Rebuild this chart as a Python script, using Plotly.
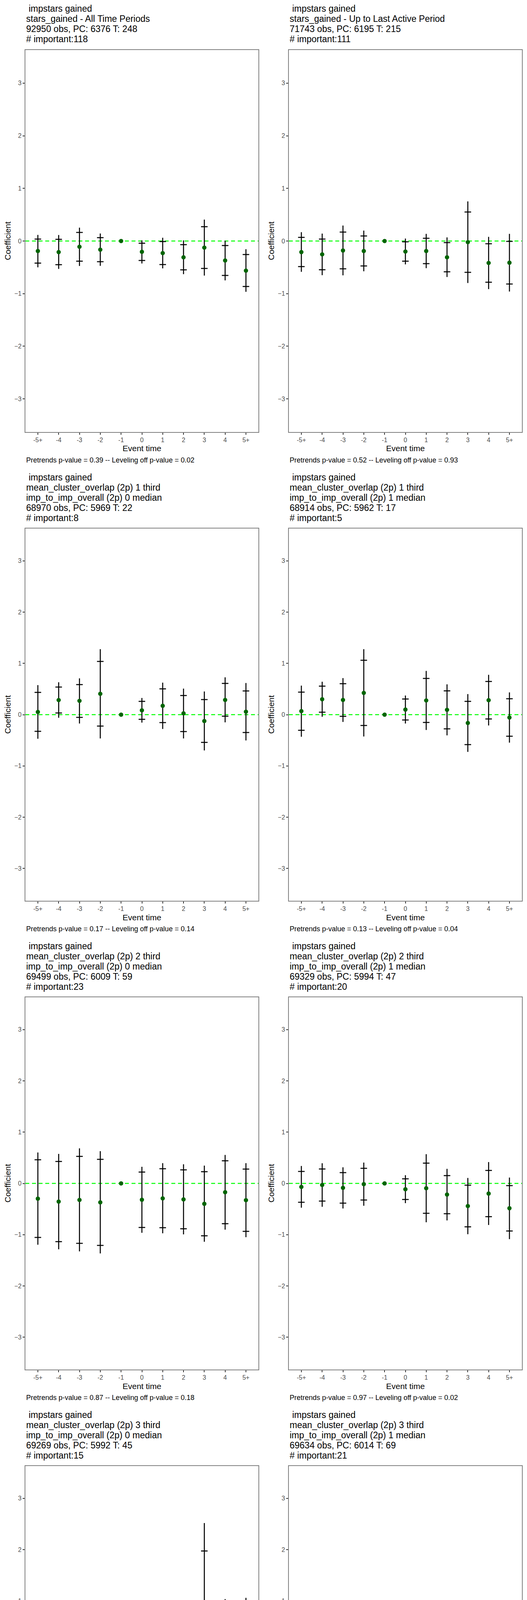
import plotly.graph_objects as go

# Event-study coefficients
events = ["-5+", "-4", "-3", "-2", "-1", "0", "1", "2", "3", "4", "5+"]

coef_1 = [-0.19, -0.21, -0.109, -0.165, 0, -0.205, -0.23, -0.309, -0.126, -0.37, -0.563]
hi95_1 = [0.037, 0.032, 0.163, 0.064, None, -0.042, -0.01, -0.069, 0.272, -0.086, -0.257]
lo95_1 = [-0.42, -0.45, -0.383, -0.393, None, -0.37, -0.447, -0.548, -0.521, -0.654, -0.864]
hi99_1 = [0.116, 0.114, 0.254, 0.143, None, 0.012, 0.062, 0.012, 0.407, 0.007, -0.156]
lo99_1 = [-0.50, -0.53, -0.474, -0.472, None, -0.427, -0.52, -0.63, -0.657, -0.748, -0.965]

coef_2 = [-0.21, -0.254, -0.18, -0.19, 0, -0.2, -0.19, -0.309, -0.022, -0.417, -0.412]
hi95_2 = [0.069, 0.037, 0.17, 0.096, None, -0.015, 0.052, -0.03, 0.551, -0.052, -0.007]
lo95_2 = [-0.486, -0.546, -0.528, -0.474, None, -0.383, -0.43, -0.585, -0.595, -0.783, -0.817]
hi99_2 = [0.168, 0.141, 0.294, 0.198, None, 0.047, 0.136, 0.069, 0.753, 0.079, 0.136]
lo99_2 = [-0.585, -0.649, -0.652, -0.575, None, -0.444, -0.516, -0.684, -0.798, -0.914, -0.96]

coef_3 = [0.053, 0.284, 0.269, 0.406, 0, 0.084, 0.173, 0.025, -0.124, 0.287, 0.058]
hi95_3 = [0.434, 0.538, 0.586, 1.038, None, 0.259, 0.503, 0.373, 0.294, 0.609, 0.462]
lo95_3 = [-0.325, 0.033, -0.053, -0.223, None, -0.091, -0.155, -0.33, -0.541, -0.03, -0.348]
hi99_3 = [0.576, 0.632, 0.708, 1.277, None, 0.325, 0.624, 0.508, 0.452, 0.728, 0.617]
lo99_3 = [-0.47, -0.061, -0.173, -0.464, None, -0.155, -0.279, -0.464, -0.698, -0.15, -0.503]

coef_4 = [0.069, 0.3, 0.287, 0.424, 0, 0.099, 0.277, 0.094, -0.162, 0.282, -0.056]
hi95_4 = [0.439, 0.556, 0.604, 1.061, None, 0.305, 0.706, 0.464, 0.259, 0.647, 0.31]
lo95_4 = [-0.305, 0.048, -0.033, -0.211, None, -0.104, -0.152, -0.277, -0.584, -0.084, -0.421]
hi99_4 = [0.566, 0.642, 0.713, 1.277, None, 0.373, 0.853, 0.591, 0.401, 0.777, 0.434]
lo99_4 = [-0.431, -0.041, -0.142, -0.426, None, -0.173, -0.299, -0.404, -0.726, -0.211, -0.546]

coef_5 = [-0.297, -0.355, -0.322, -0.37, 0, -0.319, -0.292, -0.312, -0.398, -0.172, -0.327]
hi95_5 = [0.461, 0.428, 0.527, 0.469, None, 0.221, 0.286, 0.264, 0.228, 0.441, 0.279]
lo95_5 = [-1.054, -1.136, -1.169, -1.209, None, -0.859, -0.864, -0.885, -1.022, -0.786, -0.935]
hi99_5 = [0.603, 0.575, 0.684, 0.629, None, 0.324, 0.395, 0.373, 0.347, 0.555, 0.395]
lo99_5 = [-1.196, -1.285, -1.326, -1.366, None, -0.963, -0.973, -0.994, -1.138, -0.902, -1.049]

coef_6 = [-0.068, -0.03, -0.086, -0.015, 0, -0.114, -0.094, -0.218, -0.441, -0.198, -0.484]
hi95_6 = [0.233, 0.281, 0.21, 0.294, None, 0.089, 0.395, 0.152, -0.035, 0.253, -0.043]
lo95_6 = [-0.368, -0.345, -0.385, -0.324, None, -0.314, -0.583, -0.591, -0.847, -0.649, -0.928]
hi99_6 = [0.34, 0.393, 0.314, 0.406, None, 0.16, 0.57, 0.284, 0.106, 0.416, 0.114]
lo99_6 = [-0.474, -0.456, -0.489, -0.436, None, -0.385, -0.758, -0.722, -0.991, -0.811, -1.087]

coef_7 = [0.082, 0.313, 0.099, 0.116, 0, 0.095, -0.068, -0.415, 0.517, -0.544, -0.541]
hi95_7 = [0.391, 0.629, 0.384, 0.599, None, 0.289, 0.32, 0.354, 1.973, 0.602, 0.622]
lo95_7 = [-0.224, -0.003, -0.19, -0.364, None, -0.099, -0.456, -1.18, -0.939, -1.69, -1.701]
hi99_7 = [0.507, 0.745, 0.493, 0.779, None, 0.361, 0.463, 0.643, 2.517, 1.034, 1.058]
lo99_7 = [-0.34, -0.119, -0.299, -0.544, None, -0.17, -0.599, -1.473, -1.483, -2.119, -2.136]

coef_8 = [0.099, 0.084, 0.162, 0.195, 0, 0.033, 0.139, 0.003, -0.073, -0.073, -0.101]
hi95_8 = [0.278, 0.314, 0.349, 0.456, None, 0.142, 0.339, 0.17, 0.147, 0.129, 0.096]
lo95_8 = [-0.084, -0.144, -0.025, -0.063, None, -0.078, -0.058, -0.159, -0.286, -0.276, -0.299]
hi99_8 = [0.349, 0.4, 0.418, 0.552, None, 0.177, 0.415, 0.225, 0.223, 0.205, 0.17]
lo99_8 = [-0.154, -0.23, -0.096, -0.159, None, -0.119, -0.134, -0.22, -0.37, -0.354, -0.372]

titles = [
    ["\u00a0impstars gained", "stars_gained - All Time Periods",
     "92950 obs, PC: 6376 T: 248", "# important:118"],
    ["\u00a0impstars gained", "stars_gained - Up to Last Active Period",
     "71743 obs, PC: 6195 T: 215", "# important:111"],
    ["\u00a0impstars gained", "mean_cluster_overlap (2p) 1 third",
     "imp_to_imp_overall (2p) 0 median", "68970 obs, PC: 5969 T: 22", "# important:8"],
    ["\u00a0impstars gained", "mean_cluster_overlap (2p) 1 third",
     "imp_to_imp_overall (2p) 1 median", "68914 obs, PC: 5962 T: 17", "# important:5"],
    ["\u00a0impstars gained", "mean_cluster_overlap (2p) 2 third",
     "imp_to_imp_overall (2p) 0 median", "69499 obs, PC: 6009 T: 59", "# important:23"],
    ["\u00a0impstars gained", "mean_cluster_overlap (2p) 2 third",
     "imp_to_imp_overall (2p) 1 median", "69329 obs, PC: 5994 T: 47", "# important:20"],
    ["\u00a0impstars gained", "mean_cluster_overlap (2p) 3 third",
     "imp_to_imp_overall (2p) 0 median", "69269 obs, PC: 5992 T: 45", "# important:15"],
    ["\u00a0impstars gained", "mean_cluster_overlap (2p) 3 third",
     "imp_to_imp_overall (2p) 1 median", "69634 obs, PC: 6014 T: 69", "# important:21"],
]
pretrend_p = ["0.39", "0.52", "0.17", "0.13", "0.87", "0.97", "0.25", "0.24"]
leveling_p = ["0.02", "0.93", "0.14", "0.04", "0.18", "0.02", "0.97", "0.66"]
y_ticks = [-3, -2, -1, 0, 1, 2, 3]

panels = [
    (coef_1, lo95_1, hi95_1, lo99_1, hi99_1),
    (coef_2, lo95_2, hi95_2, lo99_2, hi99_2),
    (coef_3, lo95_3, hi95_3, lo99_3, hi99_3),
    (coef_4, lo95_4, hi95_4, lo99_4, hi99_4),
    (coef_5, lo95_5, hi95_5, lo99_5, hi99_5),
    (coef_6, lo95_6, hi95_6, lo99_6, hi99_6),
    (coef_7, lo95_7, hi95_7, lo99_7, hi99_7),
    (coef_8, lo95_8, hi95_8, lo99_8, hi99_8),
]

W, H = 1350, 4800
FONT = "Liberation Sans, Arial, sans-serif"


def px_x(x):
    return x / W


def px_y(y):
    return 1 - y / H


fig = go.Figure()
annotations = []
shapes = []

for i, (coef, lo95, hi95, lo99, hi99) in enumerate(panels):
    row, col = divmod(i, 2)
    n = i + 1
    xa = "x" if n == 1 else f"x{n}"
    ya = "y" if n == 1 else f"y{n}"
    x0 = 675 * col
    y0 = 1200 * row
    box_l, box_r = x0 + 65, x0 + 662
    box_t = y0 + (128 if row == 0 else 153)
    box_b = y0 + 1106

    # 99% interval lines
    lx, ly = [], []
    for e, lo, hi in zip(events, lo99, hi99):
        if lo is None:
            continue
        lx += [e, e, None]
        ly += [lo, hi, None]
    fig.add_trace(go.Scatter(x=lx, y=ly, mode="lines", xaxis=xa, yaxis=ya,
                             line=dict(color="black", width=2.6),
                             hoverinfo="skip", showlegend=False))

    # 95% interval ticks
    tx = [e for e, v in zip(events, lo95) if v is not None]
    fig.add_trace(go.Scatter(
        x=tx + tx,
        y=[v for v in hi95 if v is not None] + [v for v in lo95 if v is not None],
        mode="markers", xaxis=xa, yaxis=ya,
        marker=dict(symbol="line-ew", size=12, color="black",
                    line=dict(color="black", width=2.6)),
        hoverinfo="skip", showlegend=False))

    # point estimates
    fig.add_trace(go.Scatter(x=events, y=coef, mode="markers", xaxis=xa, yaxis=ya,
                             marker=dict(color="#006400", size=11),
                             showlegend=False))

    xkey = "xaxis" if n == 1 else f"xaxis{n}"
    ykey = "yaxis" if n == 1 else f"yaxis{n}"
    fig.update_layout(**{
        xkey: dict(domain=[px_x(box_l), px_x(box_r)], anchor=ya,
                   type="category", categoryorder="array", categoryarray=events,
                   range=[-0.6, 10.6], showgrid=False, zeroline=False,
                   showline=True, mirror=True, linecolor="#808080", linewidth=1.5,
                   ticks="outside", ticklen=5, tickwidth=1.5, tickcolor="#333333",
                   tickfont=dict(family=FONT, size=16, color="#4d4d4d")),
        ykey: dict(domain=[px_y(box_b), px_y(box_t)], anchor=xa,
                   range=[-3.63, 3.63], tickvals=y_ticks, showgrid=False,
                   zeroline=False, showline=True, mirror=True,
                   linecolor="#808080", linewidth=1.5,
                   ticks="outside", ticklen=5, tickwidth=1.5, tickcolor="#333333",
                   tickfont=dict(family=FONT, size=16, color="#4d4d4d")),
    })

    # dashed zero reference line
    shapes.append(dict(type="line", xref=f"{xa} domain", x0=0, x1=1,
                       yref=ya, y0=0, y1=0, layer="below",
                       line=dict(color="#00ff00", width=2.6, dash="10px,7px")))

    # title lines
    for k, line in enumerate(titles[i]):
        annotations.append(dict(
            text=line, xref="paper", yref="paper",
            x=px_x(box_l), y=px_y(y0 + 22 + 26 * k),
            xanchor="left", yanchor="middle", showarrow=False,
            font=dict(family=FONT, size=23, color="black")))

    annotations.append(dict(
        text="Coefficient", xref="paper", yref="paper",
        x=px_x(x0 + 19), y=px_y((box_t + box_b) / 2), textangle=-90,
        xanchor="center", yanchor="middle", showarrow=False,
        font=dict(family=FONT, size=21, color="black")))
    annotations.append(dict(
        text="Event time", xref="paper", yref="paper",
        x=px_x((box_l + box_r) / 2), y=px_y(y0 + 1148),
        xanchor="center", yanchor="middle", showarrow=False,
        font=dict(family=FONT, size=21, color="black")))
    annotations.append(dict(
        text=f"Pretrends p-value = {pretrend_p[i]} -- Leveling off p-value = {leveling_p[i]}",
        xref="paper", yref="paper",
        x=px_x(box_l), y=px_y(y0 + 1178),
        xanchor="left", yanchor="middle", showarrow=False,
        font=dict(family=FONT, size=18, color="black")))

fig.update_layout(
    width=W, height=H,
    margin=dict(l=0, r=0, t=0, b=0),
    paper_bgcolor="white", plot_bgcolor="white",
    annotations=annotations, shapes=shapes,
    showlegend=False,
)

fig.write_html("out.html", config={"displayModeBar": False},
               post_script="document.body.style.margin = '0px';")
